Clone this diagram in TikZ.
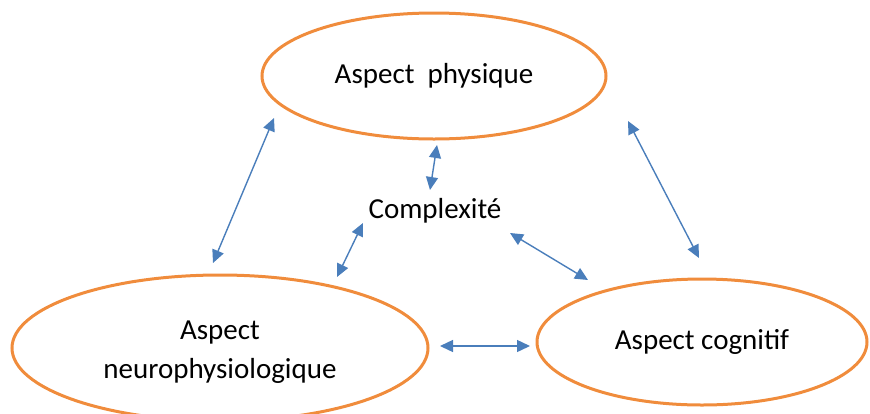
\documentclass[tikz,border=0pt]{standalone}
\usepackage{fontspec}
\setmainfont{Carlito}
\usetikzlibrary{shapes.geometric,arrows.meta}
\definecolor{orng}{RGB}{240,140,60}
\definecolor{blu}{RGB}{74,126,187}
\begin{document}
\begin{tikzpicture}[x=1pt,y=-1pt,
  aspect/.style={ellipse,draw=orng,line width=3pt,inner sep=0pt,align=center,
    font=\fontsize{29}{39}\selectfont},
  link/.style={draw=blu,line width=1.4pt,{Triangle[length=13pt,width=12pt]}-{Triangle[length=13pt,width=12pt]}},
  lbl/.style={font=\fontsize{29}{39}\selectfont,inner sep=0pt,align=center}]
\useasboundingbox (0,0) rectangle (870,413);
\node[aspect,minimum width=344,minimum height=126] (phys) at (434,76) {Aspect\ \ physique};
\node[aspect,minimum width=416,minimum height=146] (neuro) at (220,348) {};
\node[lbl] (neurotxt) at (220,352) {Aspect\\neurophysiologique};
\node[aspect,minimum width=330,minimum height=126] (cogn) at (702,342) {Aspect cognitif};
\node[lbl] (cplx) at (435,211) {Complexité};
\coordinate (a1) at (274,118); \coordinate (a2) at (213,263);
\coordinate (b1) at (437,145); \coordinate (b2) at (430,190);
\coordinate (c1) at (363,223); \coordinate (c2) at (337,277);
\coordinate (d1) at (510,233); \coordinate (d2) at (588,280);
\coordinate (e1) at (628,121); \coordinate (e2) at (699,258);
\coordinate (f1) at (440,346); \coordinate (f2) at (530,346);
\draw[link] (a1) -- (a2);
\draw[link] (b1) -- (b2);
\draw[link] (c1) -- (c2);
\draw[link] (d1) -- (d2);
\draw[link] (e1) -- (e2);
\draw[link] (f1) -- (f2);
\end{tikzpicture}
\end{document}
